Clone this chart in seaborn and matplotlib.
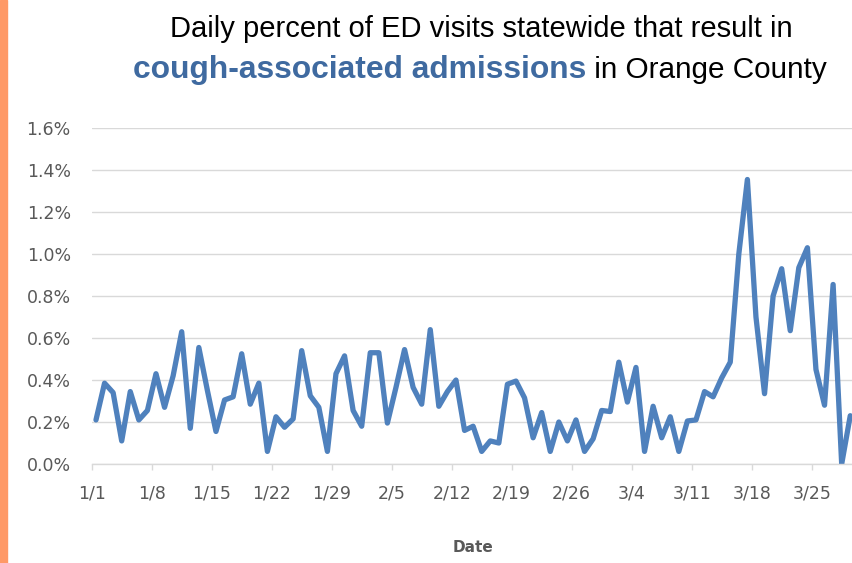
import matplotlib
matplotlib.use("Agg")
import matplotlib.pyplot as plt
import pandas as pd
import seaborn as sns

# daily percent of ED visits, 1/1 - 3/29
dates = pd.date_range("2020-01-01", "2020-03-29", freq="D")
pct = [
    0.21, 0.385, 0.34, 0.11, 0.345, 0.21, 0.255, 0.43, 0.27, 0.42,
    0.63, 0.17, 0.555, 0.35, 0.155, 0.305, 0.32, 0.525, 0.285, 0.385,
    0.06, 0.225, 0.175, 0.215, 0.54, 0.325, 0.27, 0.06, 0.43, 0.515,
    0.255, 0.18, 0.53, 0.53, 0.195, 0.365, 0.545, 0.365, 0.285, 0.64,
    0.275, 0.345, 0.40, 0.16, 0.18, 0.06, 0.11, 0.10, 0.38, 0.395,
    0.315, 0.125, 0.245, 0.06, 0.20, 0.11, 0.21, 0.06, 0.12, 0.255,
    0.25, 0.485, 0.295, 0.46, 0.06, 0.275, 0.125, 0.225, 0.06, 0.205,
    0.21, 0.345, 0.32, 0.41, 0.485, 1.00, 1.355, 0.70, 0.335, 0.80,
    0.93, 0.635, 0.935, 1.03, 0.45, 0.28, 0.855, 0.0, 0.23,
]
yticks = [0.0, 0.2, 0.4, 0.6, 0.8, 1.0, 1.2, 1.4, 1.6]

df = pd.DataFrame({"day": range(len(dates)), "pct": pct})
labels = [f"{d.month}/{d.day}" for d in dates]

sns.set_theme(style="white")
plt.rcParams["font.family"] = ["DejaVu Sans"]

fig = plt.figure(figsize=(8.53, 5.63), dpi=100)
ax = fig.add_axes([0.1075, 0.1758, 0.8943, 0.5968])

ax.grid(axis="y", color="#D9D9D9", linewidth=1.0)
ax.set_axisbelow(True)
sns.lineplot(data=df, x="day", y="pct", ax=ax, color="#4F81BD", linewidth=3.8)
ax.lines[0].set_solid_joinstyle("round")
ax.lines[0].set_solid_capstyle("round")

ax.set_xlim(-0.5, len(dates) - 0.5)
ax.set_ylim(0, 1.6)
ax.set_yticks(yticks)
ax.set_yticklabels([f"{v:.1f}%" for v in yticks])
tick_days = list(range(0, len(dates), 7))
ax.set_xticks([d - 0.5 for d in tick_days])
ax.set_xticklabels([labels[d] for d in tick_days])

for s in ["top", "right", "left"]:
    ax.spines[s].set_visible(False)
ax.spines["bottom"].set_color("#D9D9D9")
ax.spines["bottom"].set_linewidth(1.0)
ax.tick_params(axis="y", length=0, pad=15, labelsize=12.5, labelcolor="#595959")
ax.tick_params(axis="x", bottom=True, length=4, width=1.0, color="#D9D9D9",
               pad=11, labelsize=12.5, labelcolor="#595959")
ax.set_xlabel("Date", fontsize=11, fontweight="bold", color="#595959", labelpad=27)
ax.set_ylabel("")

# orange strip on the left edge
fig.patches.append(plt.Rectangle((0, 0), 7 / 853, 1, transform=fig.transFigure,
                                 color="#FF9966", zorder=0))

fig.text(0.564, 0.935, "Daily percent of ED visits statewide that result in",
         ha="center", va="baseline", fontsize=21, family="Liberation Sans", color="black")
t1 = fig.text(133 / 853, 0.862, "cough-associated admissions", ha="left", va="baseline",
              fontsize=22.9, fontweight="bold", family="Liberation Sans", color="#3F6AA0")
fig.canvas.draw()
bb = t1.get_window_extent()
fig.text(bb.x1 / fig.bbox.width, 0.862, " in Orange County", ha="left", va="baseline",
         fontsize=21.4, family="Liberation Sans", color="black")

fig.savefig("out.png", dpi=100)
